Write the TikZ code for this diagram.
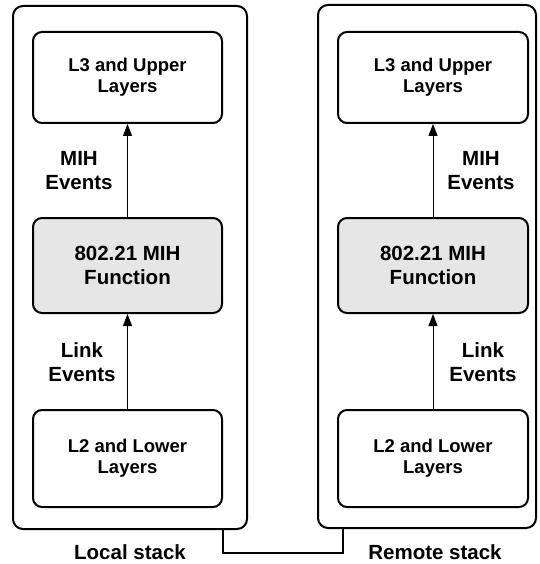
\documentclass[tikz,border=0pt]{standalone}
\usepackage{fontspec}
\setmainfont{Liberation Sans}
\usetikzlibrary{arrows.meta}
\definecolor{boxgray}{HTML}{E6E6E6}
\tikzset{
  outerbox/.style={draw, line width=2pt, rounded corners=10pt, inner sep=0pt},
  layerbox/.style={draw, line width=2pt, rounded corners=9pt, inner sep=0pt, align=center,
    font=\bfseries\fontsize{18.5}{21}\selectfont},
  mihbox/.style={layerbox, fill=boxgray, font=\bfseries\fontsize{20.5}{24}\selectfont},
  lbl/.style={align=center, inner sep=0pt, font=\bfseries\fontsize{20.5}{24}\selectfont},
  evarrow/.style={-{Triangle[length=12pt,width=9pt]}, line width=1pt},
  linkline/.style={line width=1.6pt}
}
\begin{document}
\begin{tikzpicture}[x=1pt,y=-1pt]
\useasboundingbox (0,0) rectangle (539,564);
% outer stacks
\node[outerbox, minimum width=234pt, minimum height=523pt] (outerL) at (130,267.5) {};
\node[outerbox, minimum width=218pt, minimum height=523pt] (outerR) at (427,266.5) {};
% left stack
\node[layerbox, minimum width=189pt, minimum height=91pt] (l3L) at (127.5,77.5) {L3 and Upper\\Layers};
\node[mihbox, minimum width=189pt, minimum height=95pt] (mihL) at (127.5,265.5) {802.21 MIH\\Function};
\node[layerbox, minimum width=189pt, minimum height=97pt] (l2L) at (127.5,458.5) {L2 and Lower\\Layers};
% right stack
\node[layerbox, minimum width=190pt, minimum height=91pt] (l3R) at (433,77.5) {L3 and Upper\\Layers};
\node[mihbox, minimum width=190pt, minimum height=95pt] (mihR) at (433,265.5) {802.21 MIH\\Function};
\node[layerbox, minimum width=190pt, minimum height=97pt] (l2R) at (433,458.5) {L2 and Lower\\Layers};
% arrows
\draw[evarrow] (mihL) -- (l3L);
\draw[evarrow] (l2L) -- (mihL);
\draw[evarrow] (mihR) -- (l3R);
\draw[evarrow] (l2R) -- (mihR);
% labels
\node[lbl] (mihevL) at (79,171) {MIH\\Events};
\node[lbl] (linkevL) at (82,362) {Link\\Events};
\node[lbl] (mihevR) at (481,171) {MIH\\Events};
\node[lbl] (linkevR) at (483,362) {Link\\Events};
\node[lbl] (localL) at (130,552) {Local stack};
\node[lbl] (remoteR) at (435,552) {Remote stack};
% link between stacks
\coordinate (c1) at (223,553);
\coordinate (c2) at (343,553);
\draw[linkline] (outerL.south -| c1) |- (c2) -- (outerR.south -| c2);
\end{tikzpicture}
\end{document}
